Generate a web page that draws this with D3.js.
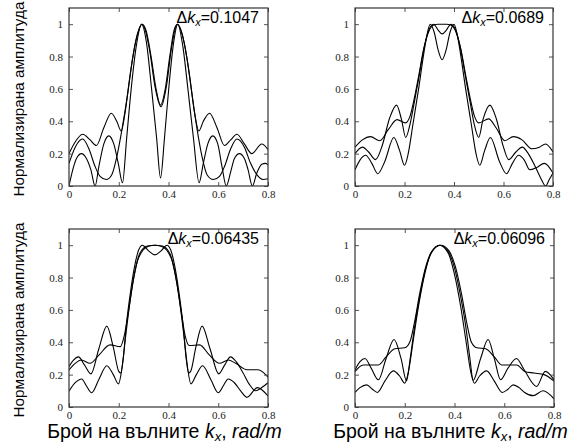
<!DOCTYPE html>
<html><head><meta charset="utf-8">
<script src="https://cdn.jsdelivr.net/npm/d3@7"></script>
<style>body{margin:0;background:#fff}svg{display:block}</style>
</head><body><svg id="c" width="572" height="445"></svg>
<script>
const xTicks=[0,0.2,0.4,0.6,0.8];
const xTickLabels=["0","0.2","0.4","0.6","0.8"];
const yTicks=[0,0.2,0.4,0.6,0.8,1];
const yTickLabels=["0","0.2","0.4","0.6","0.8","1"];
const deltaK=["0.1047","0.0689","0.06435","0.06096"];
const yTitle="Нормализирана амплитуда";
const xTitleParts=["Брой на вълните ","k","x",", ","rad/m"];

// panel 1 (Δk=0.1047)
const p1a=[[0,0.20],[0.02,0.26],[0.055,0.32],[0.085,0.285],[0.11,0.25],[0.14,0.36],[0.17,0.45],[0.192,0.40],[0.21,0.34],[0.225,0.45],[0.245,0.68],[0.265,0.87],[0.28,0.96],[0.292,1.0],[0.305,0.97],[0.325,0.83],[0.345,0.62],[0.37,0.49],[0.392,0.62],[0.41,0.83],[0.425,0.96],[0.437,1.0],[0.45,0.96],[0.465,0.87],[0.485,0.68],[0.505,0.45],[0.522,0.34],[0.54,0.40],[0.565,0.45],[0.595,0.36],[0.625,0.25],[0.65,0.285],[0.675,0.32],[0.705,0.26],[0.735,0.20],[0.775,0.26],[0.8,0.225]];
const p1b=[[0,0.14],[0.025,0.24],[0.055,0.29],[0.08,0.23],[0.105,0.12],[0.125,0.06],[0.15,0.04],[0.172,0.07],[0.192,0.18],[0.213,0.35],[0.235,0.56],[0.255,0.78],[0.275,0.94],[0.295,1.0],[0.31,0.96],[0.33,0.8],[0.35,0.6],[0.368,0.5],[0.387,0.6],[0.405,0.8],[0.422,0.96],[0.435,1.0],[0.455,0.94],[0.475,0.78],[0.495,0.56],[0.515,0.35],[0.535,0.18],[0.555,0.07],[0.58,0.04],[0.605,0.06],[0.625,0.12],[0.65,0.23],[0.675,0.29],[0.705,0.24],[0.73,0.14],[0.755,0.07],[0.78,0.04],[0.8,0.045]];
const p1c=[[0,0.0],[0.015,0.1],[0.03,0.17],[0.05,0.2],[0.07,0.17],[0.088,0.1],[0.105,0.0],[0.12,0.12],[0.14,0.26],[0.16,0.31],[0.18,0.26],[0.198,0.14],[0.215,0.02],[0.232,0.3],[0.25,0.6],[0.27,0.86],[0.292,1.0],[0.312,0.88],[0.332,0.6],[0.352,0.3],[0.368,0.05],[0.384,0.3],[0.402,0.62],[0.42,0.88],[0.437,1.0],[0.458,0.86],[0.478,0.6],[0.5,0.3],[0.523,0.02],[0.54,0.14],[0.558,0.26],[0.578,0.31],[0.598,0.26],[0.615,0.12],[0.632,0.0],[0.652,0.1],[0.665,0.17],[0.685,0.2],[0.705,0.17],[0.72,0.1],[0.737,0.0],[0.755,0.08],[0.775,0.135],[0.79,0.14],[0.8,0.13]];

// panel 2 (Δk=0.0689)
const p2a=[[0,0.24],[0.03,0.285],[0.063,0.305],[0.1,0.28],[0.135,0.35],[0.17,0.41],[0.204,0.39],[0.222,0.43],[0.238,0.53],[0.256,0.67],[0.278,0.85],[0.298,0.955],[0.318,0.995],[0.335,1.0],[0.352,1.0],[0.37,1.0],[0.387,0.995],[0.407,0.955],[0.427,0.85],[0.449,0.67],[0.467,0.53],[0.483,0.43],[0.5,0.39],[0.54,0.415],[0.57,0.36],[0.605,0.28],[0.64,0.305],[0.675,0.285],[0.715,0.23],[0.745,0.24],[0.77,0.26],[0.8,0.21]];
const p2b=[[0,0.2],[0.03,0.24],[0.055,0.21],[0.083,0.163],[0.11,0.25],[0.14,0.42],[0.168,0.5],[0.188,0.41],[0.205,0.3],[0.222,0.38],[0.24,0.52],[0.258,0.67],[0.28,0.86],[0.3,0.97],[0.318,1.0],[0.335,0.965],[0.352,0.94],[0.37,0.965],[0.387,1.0],[0.405,0.97],[0.425,0.86],[0.447,0.67],[0.465,0.52],[0.482,0.38],[0.5,0.3],[0.517,0.41],[0.545,0.5],[0.57,0.42],[0.598,0.25],[0.621,0.163],[0.65,0.21],[0.676,0.24],[0.7,0.2],[0.725,0.13],[0.75,0.05],[0.77,0.0],[0.785,0.04],[0.8,0.08]];
const p2c=[[0,0.1],[0.02,0.16],[0.043,0.19],[0.068,0.14],[0.092,0.076],[0.12,0.15],[0.157,0.3],[0.18,0.22],[0.2,0.128],[0.215,0.2],[0.234,0.38],[0.257,0.6],[0.278,0.82],[0.293,0.95],[0.304,1.0],[0.32,0.95],[0.336,0.84],[0.352,0.78],[0.368,0.84],[0.384,0.95],[0.4,1.0],[0.411,0.95],[0.426,0.82],[0.447,0.6],[0.47,0.38],[0.489,0.2],[0.504,0.128],[0.524,0.22],[0.547,0.3],[0.584,0.15],[0.612,0.076],[0.636,0.14],[0.661,0.19],[0.684,0.16],[0.706,0.1],[0.735,0.115],[0.765,0.14],[0.8,0.08]];

// panel 3 (Δk=0.06435)
const p3a=[[0,0.25],[0.018,0.29],[0.038,0.31],[0.062,0.26],[0.088,0.205],[0.12,0.36],[0.152,0.5],[0.178,0.37],[0.2,0.22],[0.208,0.21],[0.218,0.3],[0.23,0.5],[0.248,0.72],[0.265,0.88],[0.28,0.97],[0.295,1.0],[0.32,0.965],[0.345,0.94],[0.37,0.965],[0.394,1.0],[0.409,0.97],[0.424,0.88],[0.441,0.72],[0.459,0.5],[0.471,0.3],[0.481,0.21],[0.489,0.22],[0.51,0.37],[0.535,0.5],[0.567,0.36],[0.602,0.205],[0.626,0.26],[0.649,0.31],[0.672,0.28],[0.7,0.21],[0.725,0.14],[0.75,0.1],[0.775,0.12],[0.8,0.15]];
const p3b=[[0,0.23],[0.025,0.27],[0.05,0.29],[0.085,0.27],[0.12,0.32],[0.165,0.384],[0.206,0.373],[0.222,0.44],[0.238,0.58],[0.256,0.76],[0.275,0.9],[0.298,0.97],[0.322,0.995],[0.345,1.0],[0.368,0.995],[0.392,0.97],[0.415,0.9],[0.434,0.76],[0.452,0.58],[0.467,0.44],[0.484,0.38],[0.525,0.384],[0.565,0.32],[0.605,0.27],[0.64,0.29],[0.67,0.27],[0.716,0.23],[0.76,0.23],[0.8,0.185]];
const p3c=[[0,0.098],[0.025,0.15],[0.051,0.173],[0.07,0.13],[0.091,0.088],[0.12,0.17],[0.152,0.255],[0.178,0.2],[0.199,0.143],[0.213,0.24],[0.228,0.44],[0.246,0.66],[0.265,0.84],[0.285,0.95],[0.315,0.995],[0.345,1.0],[0.375,0.995],[0.405,0.95],[0.425,0.84],[0.444,0.66],[0.462,0.44],[0.477,0.24],[0.49,0.143],[0.512,0.2],[0.537,0.255],[0.57,0.17],[0.6,0.088],[0.62,0.13],[0.64,0.173],[0.665,0.15],[0.69,0.1],[0.716,0.06],[0.757,0.12],[0.8,0.068]];

// panel 4 (Δk=0.06096)
const p4a=[[0,0.229],[0.02,0.28],[0.04,0.3],[0.065,0.24],[0.094,0.168],[0.125,0.3],[0.157,0.417],[0.185,0.3],[0.207,0.162],[0.222,0.3],[0.24,0.5],[0.26,0.68],[0.285,0.86],[0.31,0.96],[0.342,1.0],[0.375,0.96],[0.4,0.86],[0.425,0.68],[0.445,0.5],[0.462,0.3],[0.475,0.165],[0.505,0.3],[0.535,0.417],[0.56,0.3],[0.585,0.168],[0.615,0.24],[0.649,0.3],[0.68,0.23],[0.73,0.127],[0.765,0.22],[0.8,0.168]];
const p4b=[[0,0.219],[0.033,0.26],[0.06,0.26],[0.094,0.26],[0.125,0.31],[0.16,0.36],[0.2,0.366],[0.22,0.4],[0.24,0.53],[0.26,0.7],[0.285,0.87],[0.31,0.965],[0.345,1.0],[0.378,0.965],[0.403,0.87],[0.428,0.7],[0.448,0.53],[0.468,0.4],[0.49,0.366],[0.525,0.36],[0.56,0.31],[0.59,0.26],[0.625,0.26],[0.65,0.26],[0.682,0.22],[0.72,0.21],[0.76,0.2],[0.8,0.16]];
const p4c=[[0,0.09],[0.02,0.12],[0.047,0.137],[0.07,0.11],[0.09,0.09],[0.12,0.16],[0.154,0.223],[0.18,0.19],[0.2,0.147],[0.215,0.22],[0.235,0.42],[0.255,0.62],[0.28,0.82],[0.305,0.95],[0.34,1.0],[0.375,0.95],[0.4,0.82],[0.425,0.62],[0.445,0.42],[0.465,0.22],[0.48,0.147],[0.5,0.19],[0.529,0.223],[0.56,0.16],[0.592,0.09],[0.615,0.11],[0.636,0.137],[0.66,0.12],[0.682,0.09],[0.716,0.07],[0.756,0.1],[0.8,0.05]];

const seriesByPanel=[[p1a,p1b,p1c],[p2a,p2b,p2c],[p3a,p3b,p3c],[p4a,p4b,p4c]];

const panels=[{x:69,y:8,w:199,h:178},{x:355,y:8,w:198,h:178},{x:69,y:229,w:199,h:178},{x:355,y:229,w:199,h:178}];
const svg=d3.select("#c");
const defs=svg.append("defs");

panels.forEach((p,i)=>{
  const x=d3.scaleLinear().domain([0,0.8]).range([p.x,p.x+p.w]);
  const y=d3.scaleLinear().domain([0,1.1]).range([p.y+p.h,p.y]);
  defs.append("clipPath").attr("id","clip"+i).append("rect")
    .attr("x",p.x).attr("y",p.y).attr("width",p.w).attr("height",p.h);
  const g=svg.append("g");
  const line=d3.line().x(d=>x(d[0])).y(d=>y(d[1])).curve(d3.curveMonotoneX);
  g.append("g").attr("clip-path","url(#clip"+i+")").selectAll("path").data(seriesByPanel[i]).join("path")
    .attr("d",line).attr("fill","none").attr("stroke","#000").attr("stroke-width",1.1);

  const styleAxis=(sel)=>{
    sel.select(".domain").remove();
    sel.selectAll(".tick line").attr("stroke","#555").attr("stroke-width",1);
    sel.selectAll(".tick text").attr("font-family","'Liberation Serif','Times New Roman',serif").attr("font-size",11).attr("fill","#222");
  };
  g.append("g").attr("transform",`translate(0,${p.y+p.h})`)
    .call(d3.axisBottom(x).tickValues(xTicks).tickSizeInner(-4).tickSizeOuter(0).tickPadding(4).tickFormat((d,j)=>xTickLabels[j]))
    .call(styleAxis);
  g.append("g").attr("transform",`translate(0,${p.y})`)
    .call(d3.axisTop(x).tickValues(xTicks).tickSizeInner(-4).tickSizeOuter(0).tickFormat(""))
    .call(styleAxis);
  g.append("g").attr("transform",`translate(${p.x},0)`)
    .call(d3.axisLeft(y).tickValues(yTicks).tickSizeInner(-4).tickSizeOuter(0).tickPadding(6).tickFormat((d,j)=>yTickLabels[j]))
    .call(styleAxis);
  g.append("g").attr("transform",`translate(${p.x+p.w},0)`)
    .call(d3.axisRight(y).tickValues(yTicks).tickSizeInner(-4).tickSizeOuter(0).tickFormat(""))
    .call(styleAxis);

  g.append("rect").attr("x",p.x).attr("y",p.y).attr("width",p.w).attr("height",p.h)
    .attr("fill","none").attr("stroke","#333").attr("stroke-width",1.2);

  // annotation
  const t=g.append("text").attr("x",p.x+p.w-9).attr("y",p.y+14.5).attr("text-anchor","end")
    .attr("font-family","'Liberation Sans',Arial,sans-serif").attr("font-size",16).attr("fill","#000");
  t.append("tspan").text("Δ");
  t.append("tspan").attr("font-style","italic").text("k");
  t.append("tspan").attr("font-style","italic").attr("font-size",11).attr("dy",3).text("x");
  t.append("tspan").attr("dy",-3).text("="+deltaK[i]);

  // y title on left panels
  if(i%2===0){
    svg.append("text").attr("transform",`translate(24,${p.y+p.h/2+2}) rotate(-90)`)
      .attr("text-anchor","middle").attr("font-family","'Liberation Sans',Arial,sans-serif")
      .attr("font-size",15.3).attr("fill","#000").text(yTitle);
  }
  // x title on bottom panels
  if(i>=2){
    const xt=svg.append("text").attr("x",p.x+p.w/2-4).attr("y",438).attr("text-anchor","middle")
      .attr("font-family","'Liberation Sans',Arial,sans-serif").attr("font-size",19.5).attr("fill","#000");
    xt.append("tspan").text(xTitleParts[0]);
    xt.append("tspan").attr("font-style","italic").text(xTitleParts[1]);
    xt.append("tspan").attr("font-style","italic").attr("font-size",13).attr("dy",3).text(xTitleParts[2]);
    xt.append("tspan").attr("dy",-3).text(xTitleParts[3]);
    xt.append("tspan").attr("font-style","italic").text(xTitleParts[4]);
  }
});
</script></body></html>
